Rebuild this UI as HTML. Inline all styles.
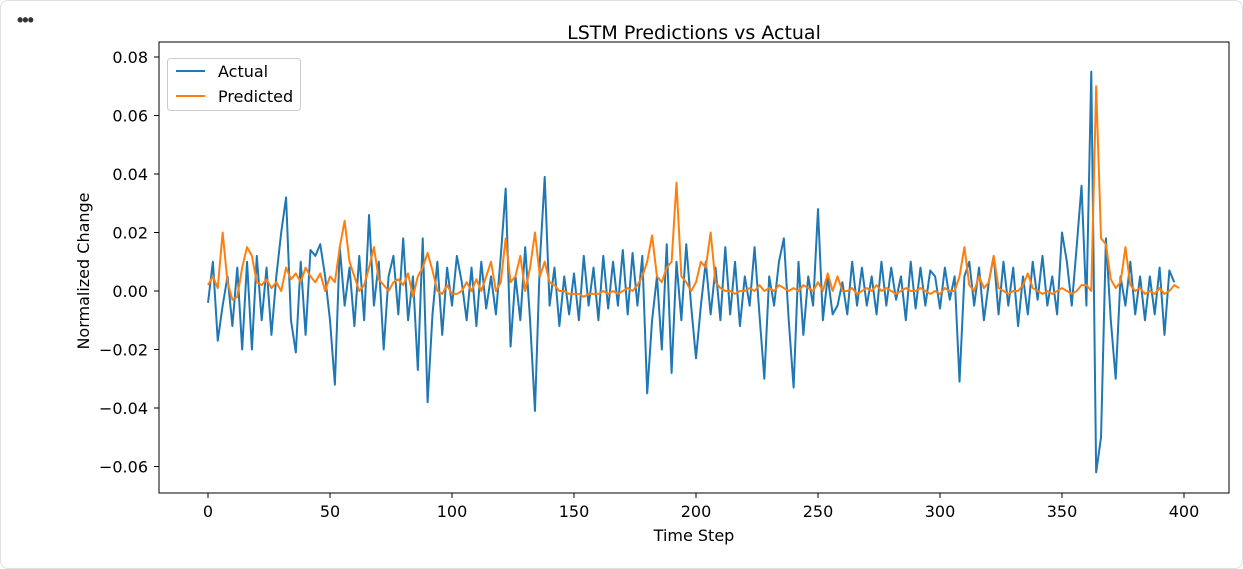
<!DOCTYPE html>
<html><head><meta charset="utf-8"><style>
body{margin:0;background:#fff;font-family:"Liberation Sans","DejaVu Sans",sans-serif;}
#card{position:absolute;left:0;top:0;width:1241px;height:567px;border:1px solid #e0e0e0;border-radius:8px;}
#dots{position:absolute;left:17px;top:10px;font-size:18px;font-weight:bold;color:#333;letter-spacing:-1px}
svg{position:absolute;left:0;top:0}
text{font-family:"DejaVu Sans","Liberation Sans",sans-serif;fill:#000}
</style></head><body>
<div id="card"></div>
<div id="dots">•••</div>
<svg id="chart" width="1243" height="569"></svg>
<script>
const xStep = 2;
const actual = [-4,10,-17,-5,5,-12,8,-20,10,-20,12,-10,8,-15,5,20,32,-10,-21,10,-15,14,12,16,5,-10,-32,15,-5,8,-12,12,-10,26,-5,10,-20,5,12,-8,18,-10,5,-27,18,-38,-8,10,-15,8,-5,12,3,-10,8,-12,10,-6,5,-8,12,35,-19,5,-10,15,-10,-41,10,39,-5,8,-12,5,-8,6,-10,12,-5,8,-10,12,-6,10,-5,14,-8,13,-5,12,-35,-10,5,-20,16,-28,10,-10,16,-5,-23,-5,10,-8,8,-10,15,-8,10,-12,5,-5,15,-8,-30,5,-5,10,18,-10,-33,10,-15,5,-5,28,-10,5,-8,-5,3,-8,10,-5,8,-5,5,-8,10,-5,8,-3,5,-10,10,-6,8,-5,7,5,-6,8,-3,5,-31,5,10,-5,8,-10,3,12,-8,10,-5,8,-12,5,-8,10,-3,12,-5,5,-8,20,10,-5,15,36,-5,75,-62,-50,18,-10,-30,5,-5,10,-8,5,-10,5,-8,8,-15,7,3];
const predicted = [2,5,1,20,3,-3,-2,8,15,12,3,2,4,1,3,0,8,4,6,3,8,5,3,6,0,5,3,15,24,10,5,0,2,8,15,4,2,0,3,4,2,6,-2,5,8,13,7,0,-1,2,-1,-1,0,3,0,4,0,5,10,0,3,18,3,5,12,0,8,20,5,10,3,2,0,0,-1,-1,-1,-2,-1,-1,-1,0,-1,0,-1,0,1,0,2,5,10,19,5,3,8,10,37,5,3,0,3,10,8,20,3,1,0,0,-1,0,0,1,0,2,0,1,0,2,1,0,1,0,2,1,0,3,0,6,0,5,0,0,1,-1,0,1,0,2,0,1,0,-1,0,1,0,0,1,0,-1,0,-1,1,0,0,5,15,2,0,5,1,3,12,1,0,-1,0,0,2,6,1,0,-1,0,-1,0,1,0,-1,0,2,2,0,70,18,16,4,1,3,15,2,0,1,-1,0,-1,1,-1,0,2,1];
const yTicks = [-0.06,-0.04,-0.02,0.00,0.02,0.04,0.06,0.08];
const xTicks = [0,50,100,150,200,250,300,350,400];

const NS="http://www.w3.org/2000/svg", svg=document.getElementById('chart');
const L=159,R=1229,T=42,B=493;
const xS=v=>208+v*(1184-208)/400;
const yS=v=>291-v*(291-57)/0.08;
function el(t,a,p){const e=document.createElementNS(NS,t);for(const k in a)e.setAttribute(k,a[k]);(p||svg).appendChild(e);return e;}

const title=el('text',{x:694,y:39,'text-anchor':'middle','font-size':19});title.textContent='LSTM Predictions vs Actual';



yTicks.forEach(v=>{const y=yS(v);el('line',{x1:L-5,x2:L,y1:y,y2:y,stroke:'#000'});
 const t=el('text',{x:148,y:y+6,'text-anchor':'end','font-size':16});t.textContent=v.toFixed(2).replace('-','−');
 
 });
xTicks.forEach(v=>{const x=xS(v);el('line',{x1:x,x2:x,y1:B,y2:B+5,stroke:'#000'});
 const t=el('text',{x:x,y:517,'text-anchor':'middle','font-size':16});t.textContent=v;
 
 });
const xl=el('text',{x:694,y:541,'text-anchor':'middle','font-size':16});xl.textContent='Time Step';


const yl=el('text',{x:89,y:271,'text-anchor':'middle','font-size':16,transform:'rotate(-90 89 271)'});yl.textContent='Normalized Change';



function series(arr,color,name){
 const d=arr.map((v,i)=>(i?'L':'M')+xS(i*xStep).toFixed(2)+','+yS(v/1000).toFixed(2)).join('');
 const p=el('path',{d:d,fill:'none',stroke:color,'stroke-width':2,'stroke-linejoin':'round'});
 
 
}
series(actual,'#1f77b4','actual-line');
series(predicted,'#ff7f0e','predicted-line');

const frame=el('rect',{x:L,y:T,width:R-L,height:B-T,fill:'none',stroke:'#000','stroke-width':1});



const lg=el('g',{});


el('rect',{x:167.5,y:58.5,width:133,height:52,rx:3,fill:'#fff',stroke:'#ccc'},lg);
[['Actual','#1f77b4',71],['Predicted','#ff7f0e',96]].forEach(([n,c,y])=>{
 const g=el('g',{},lg);
 
 
 el('line',{x1:176,x2:205,y1:y,y2:y,stroke:c,'stroke-width':2},g);
 const t=el('text',{x:218,y:y+6,'font-size':16},g);t.textContent=n;});
</script>
</body></html>
